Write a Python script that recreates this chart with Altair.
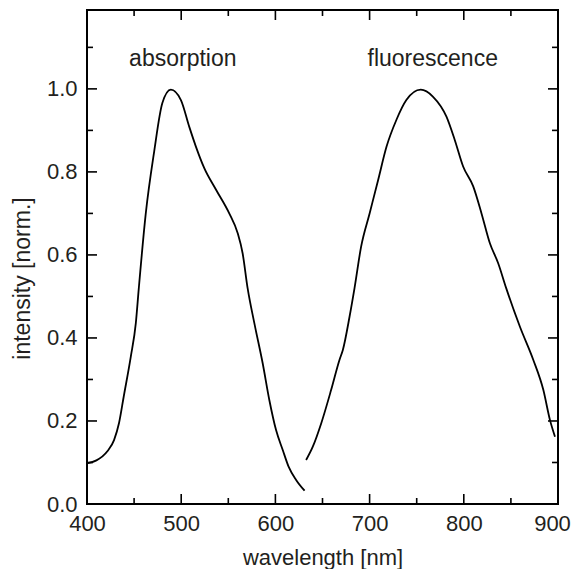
import altair as alt
import pandas as pd

# absorption spectrum
abs_wl = [400, 410, 421.6, 428.7, 434, 439, 446.5, 451.8, 455, 462.4, 471.3, 480, 489,
          499.7, 508.5, 515.6, 524.5, 537, 551, 560, 565.2, 570.5, 577.7, 586.5, 593.6,
          600.7, 607.8, 614, 622, 631]
abs_int = [0.098, 0.105, 0.127, 0.154, 0.195, 0.259, 0.355, 0.435, 0.52, 0.70, 0.849, 0.966, 0.998,
           0.973, 0.909, 0.861, 0.809, 0.757, 0.70, 0.652, 0.604, 0.52, 0.435, 0.339, 0.25,
           0.178, 0.13, 0.09, 0.058, 0.032]

# fluorescence spectrum
fl_wl = [632.6, 639.7, 648.6, 659.2, 668, 671.6, 678.7, 684, 691, 700, 709, 718, 728.4, 739,
         754.3, 767.4, 781.6, 790.4, 799.3, 810, 818.8, 827.7, 836.5, 845, 859.6, 873.8,
         884.4, 891.5, 896.8]
fl_int = [0.106, 0.138, 0.194, 0.275, 0.347, 0.371, 0.451, 0.52, 0.62, 0.70, 0.78, 0.861, 0.925, 0.973,
          0.998, 0.981, 0.933, 0.877, 0.813, 0.765, 0.70, 0.628, 0.58, 0.52, 0.427, 0.347,
          0.275, 0.202, 0.162]

# annotations
label_text = ["absorption", "fluorescence"]
label_wl = [501.7, 767]
label_y = [1.055, 1.055]

# tick values
x_major = [400, 500, 600, 700, 800, 900]
x_minor = [450, 550, 650, 750, 850]
y_major = [0.0, 0.2, 0.4, 0.6, 0.8, 1.0]
y_minor = [0.1, 0.3, 0.5, 0.7, 0.9, 1.1]

W, H = 471, 494
MAJ, MIN = 10, 6
FONT = "Liberation Sans"
INK = "#231f20"

df = pd.concat([
    pd.DataFrame({"wl": abs_wl, "val": abs_int, "series": "absorption"}),
    pd.DataFrame({"wl": fl_wl, "val": fl_int, "series": "fluorescence"}),
])

xs = alt.Scale(domain=[400, 900], nice=False, zero=False)
ys = alt.Scale(domain=[0, 1.19], nice=False, zero=False)

xaxis = alt.Axis(
    values=x_major, format="d", tickSize=0, labelPadding=9, labelFontSize=22,
    labelColor=INK, labelFont=FONT, labelFlush=False, labelOverlap=False,
    labelOffset={"condition": {"test": "datum.value == 900", "value": -6}, "value": 0},
    domain=False, grid=False,
    title="wavelength [nm]", titleFontSize=22, titleFont=FONT, titleFontWeight="normal",
    titleColor=INK, titleY=60, titleBaseline="alphabetic")
yaxis = alt.Axis(
    values=y_major, format=".1f", tickSize=0, labelPadding=10, labelFontSize=22,
    labelColor=INK, labelFont=FONT, labelFlush=False, labelOverlap=False,
    domain=False, grid=False,
    title="intensity [norm.]", titleFontSize=23, titleFont=FONT, titleFontWeight="normal",
    titleColor=INK, titleX=-58, titleY=268, titleAngle=270, titleAlign="center",
    titleBaseline="alphabetic")


def X(field):
    return alt.X(field, type="quantitative", scale=xs, axis=xaxis)


def Y(field):
    return alt.Y(field, type="quantitative", scale=ys, axis=yaxis)


lines = alt.Chart(df).mark_line(color="black", strokeWidth=1.8, interpolate="monotone").encode(
    x=X("wl"), y=Y("val"), detail="series:N",
)

labels = alt.Chart(pd.DataFrame({"t": label_text, "wl": label_wl, "val": label_y})).mark_text(
    font=FONT, fontSize=23, color=INK, align="center", baseline="alphabetic").encode(
    x=X("wl"), y=Y("val"), text="t:N",
)


def yticks(vals, length):
    d = pd.DataFrame({"val": vals})
    base = alt.Chart(d).mark_rule(color="black", strokeWidth=1.6)
    left = base.encode(y=Y("val"), x=alt.value(0), x2=alt.value(length))
    right = base.encode(y=Y("val"), x=alt.value(W), x2=alt.value(W - length))
    return [left, right]


def xticks(vals, length):
    d = pd.DataFrame({"wl": vals})
    base = alt.Chart(d).mark_rule(color="black", strokeWidth=1.6)
    bottom = base.encode(x=X("wl"), y=alt.value(H), y2=alt.value(H - length))
    top = base.encode(x=X("wl"), y=alt.value(0), y2=alt.value(length))
    return [bottom, top]


tick_layers = yticks(y_major, MAJ) + yticks(y_minor, MIN) + xticks(x_major, MAJ) + xticks(x_minor, MIN)

chart = alt.layer(lines, labels, *tick_layers).properties(
    width=W, height=H,
    background="white",
    autosize=alt.AutoSizeParams(type="none"),
    padding={"left": 79, "top": 2, "right": 13, "bottom": 65},
).configure_view(stroke="black", strokeWidth=2)

chart.save("out.html", embed_options={"renderer": "svg", "actions": False})
